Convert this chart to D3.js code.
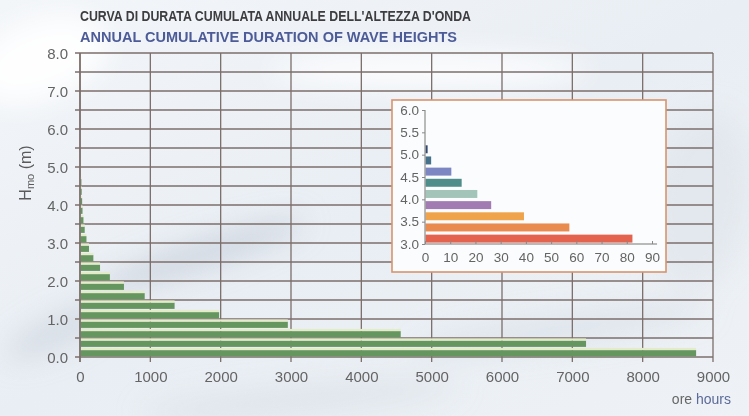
<!DOCTYPE html>
<html>
<head>
<meta charset="utf-8">
<script src="https://cdn.jsdelivr.net/npm/d3@7"></script>
<style>
  html, body { margin: 0; padding: 0; background: #eef2f6; }
  svg { display: block; font-family: "Liberation Sans", Arial, sans-serif; }
</style>
</head>
<body>
<svg id="chart" width="749" height="416"></svg>
<script>
// Lower edge of each 0.25 m wave-height class (m)
const heightClasses = [0, 0.25, 0.5, 0.75, 1.0, 1.25, 1.5, 1.75, 2.0, 2.25, 2.5,
                       2.75, 3.0, 3.25, 3.5, 3.75, 4.0, 4.25, 4.5, 4.75, 5.0];
// Cumulative annual duration of each class (hours)
const durationHours = [8750, 7185, 4550, 2945, 1968, 1335, 910, 615, 415, 275, 180,
                       118, 82, 57, 39, 26, 20.5, 14.3, 10.2, 2.2, 0.8];
// Colours of the detail bars, from 3.0 m upward
const detailColors = ["#e3634f", "#e98a4f", "#efa44b", "#a27bb2", "#a3c4b8",
                      "#4f8d8a", "#7b86c2", "#46718a", "#33486e"];

const mainYTicks = [0, 1, 2, 3, 4, 5, 6, 7, 8];
const mainXTicks = [0, 1000, 2000, 3000, 4000, 5000, 6000, 7000, 8000, 9000];
const detailYTicks = [3.0, 3.5, 4.0, 4.5, 5.0, 5.5, 6.0];
const detailXTicks = [0, 10, 20, 30, 40, 50, 60, 70, 80, 90];

const titleIt = "CURVA DI DURATA CUMULATA ANNUALE DELL'ALTEZZA D'ONDA";
const titleEn = "ANNUAL CUMULATIVE DURATION OF WAVE HEIGHTS";

const classes = heightClasses.map((h, i) => ({ h, v: durationHours[i] }));
const step = 0.25;

const svg = d3.select("#chart");
const W = 749, H = 416;
const gridColor = "#7c6e6b";
const labelColor = "#646464";

// ---- sea-coloured backdrop ----
const defs = svg.append("defs");
defs.append("filter").attr("id", "soft").attr("x", "-50%").attr("y", "-50%")
  .attr("width", "200%").attr("height", "200%")
  .append("feGaussianBlur").attr("stdDeviation", 14);
const bgGrad = defs.append("linearGradient").attr("id", "bgGrad")
  .attr("x1", 0).attr("y1", 0).attr("x2", 1).attr("y2", 1);
bgGrad.append("stop").attr("offset", 0).attr("stop-color", "#f3f6f9");
bgGrad.append("stop").attr("offset", 0.5).attr("stop-color", "#e9eef4");
bgGrad.append("stop").attr("offset", 1).attr("stop-color", "#eef2f6");
svg.append("rect").attr("width", W).attr("height", H).attr("fill", "url(#bgGrad)");

const haze = svg.append("g").attr("filter", "url(#soft)");
const streaks = [
  { cx: 40, cy: 60, rx: 70, ry: 40, c: "#ffffff", o: 0.9, r: -20 },
  { cx: 200, cy: 255, rx: 110, ry: 14, c: "#b9c3cf", o: 0.55, r: -18 },
  { cx: 60, cy: 330, rx: 60, ry: 16, c: "#c3cbd6", o: 0.5, r: -25 },
  { cx: 560, cy: 330, rx: 150, ry: 14, c: "#cfd7e1", o: 0.5, r: -8 },
  { cx: 700, cy: 200, rx: 50, ry: 90, c: "#dde3ea", o: 0.6, r: 10 },
  { cx: 300, cy: 400, rx: 160, ry: 14, c: "#d2d9e2", o: 0.5, r: -5 },
  { cx: 430, cy: 70, rx: 160, ry: 18, c: "#ffffff", o: 0.8, r: 0 }
];
haze.selectAll("ellipse").data(streaks).join("ellipse")
  .attr("cx", d => d.cx).attr("cy", d => d.cy)
  .attr("rx", d => d.rx).attr("ry", d => d.ry)
  .attr("fill", d => d.c).attr("opacity", d => d.o)
  .attr("transform", d => `rotate(${d.r},${d.cx},${d.cy})`);

// ---- titles ----
svg.append("text").attr("x", 80).attr("y", 21)
  .attr("font-size", 14.5).attr("font-weight", "bold").attr("fill", "#3d3d3f")
  .attr("textLength", 391).attr("lengthAdjust", "spacingAndGlyphs")
  .text(titleIt);
svg.append("text").attr("x", 80).attr("y", 42)
  .attr("font-size", 14.5).attr("font-weight", "bold").attr("fill", "#4d5c98")
  .attr("textLength", 377).attr("lengthAdjust", "spacingAndGlyphs")
  .text(titleEn);

// ---- main chart ----
const x = d3.scaleLinear().domain([0, 9000]).range([80, 713]);
const y = d3.scaleLinear().domain([0, 8]).range([357, 53]);

const grid = svg.append("g").attr("stroke", gridColor).attr("stroke-width", 1.3);
grid.selectAll("line.h").data(d3.range(0, 8.01, 0.5)).join("line")
  .attr("class", "h")
  .attr("x1", 75).attr("x2", x(9000))
  .attr("y1", d => y(d)).attr("y2", d => y(d));
grid.selectAll("line.v").data(mainXTicks).join("line")
  .attr("class", "v")
  .attr("x1", d => x(d)).attr("x2", d => x(d))
  .attr("y1", y(8)).attr("y2", y(0) + 5);

// bars: green body with a pale highlight strip on top
const bars = svg.append("g");
const band = y(0) - y(step);
bars.selectAll("rect.body").data(classes).join("rect")
  .attr("class", "body")
  .attr("x", x(0) + 0.7)
  .attr("y", d => y(d.h) - band + 2.6)
  .attr("width", d => x(d.v) - x(0))
  .attr("height", band - 3.2)
  .attr("fill", "#66965f");
bars.selectAll("rect.hl").data(classes).join("rect")
  .attr("class", "hl")
  .attr("x", x(0) + 0.7)
  .attr("y", d => y(d.h) - band + 0.4)
  .attr("width", d => x(d.v) - x(0))
  .attr("height", 2.2)
  .attr("fill", "#e4ebc9");

// axis line on top of the bars
svg.append("line").attr("x1", x(0)).attr("x2", x(0))
  .attr("y1", y(8)).attr("y2", y(0) + 5)
  .attr("stroke", gridColor).attr("stroke-width", 1.5);

const mainAxisY = d3.axisLeft(y).tickValues(mainYTicks).tickFormat(d3.format(".1f")).tickSize(0).tickPadding(12);
svg.append("g").attr("transform", `translate(${x(0)},0)`).call(mainAxisY)
  .call(g => g.select(".domain").remove())
  .call(g => g.selectAll("text").attr("font-size", 15).attr("fill", labelColor)
    .attr("font-family", "Liberation Sans, Arial, sans-serif").attr("dy", "0.36em"));

const mainAxisX = d3.axisBottom(x).tickValues(mainXTicks).tickFormat(d3.format("d")).tickSize(0).tickPadding(14);
svg.append("g").attr("transform", `translate(0,${y(0)})`).call(mainAxisX)
  .call(g => g.select(".domain").remove())
  .call(g => g.selectAll("text").attr("font-size", 15).attr("fill", labelColor)
    .attr("font-family", "Liberation Sans, Arial, sans-serif"));

// y-axis title H_mo (m)
const yTitle = svg.append("text")
  .attr("transform", "translate(31,173) rotate(-90)")
  .attr("text-anchor", "middle").attr("font-size", 16).attr("fill", "#5a5a5a");
yTitle.append("tspan").text("H");
yTitle.append("tspan").attr("font-size", 11).attr("dy", 3).text("mo");
yTitle.append("tspan").attr("dy", -3).text(" (m)");

// unit label
const unit = svg.append("text").attr("x", 731).attr("y", 404)
  .attr("text-anchor", "end").attr("font-size", 14);
unit.append("tspan").attr("fill", "#666").text("ore ");
unit.append("tspan").attr("fill", "#5b6a98").text("hours");

// ---- detail panel for heights above 3 m ----
const box = { x: 392, y: 100, w: 274, h: 172 };
svg.append("rect").attr("x", box.x).attr("y", box.y)
  .attr("width", box.w).attr("height", box.h)
  .attr("fill", "#fbfcfd").attr("stroke", "#d8946d").attr("stroke-width", 1.6);

const detail = classes.filter(d => d.h >= 3);
const xi = d3.scaleLinear().domain([0, 90]).range([425, 652]);
const yi = d3.scaleLinear().domain([3, 6]).range([244, 110]);
const bandI = yi(3) - yi(3 + step);

svg.append("g").selectAll("rect").data(detail).join("rect")
  .attr("x", xi(0) + 0.6)
  .attr("y", d => yi(d.h) - bandI + 1.8)
  .attr("width", d => xi(d.v) - xi(0))
  .attr("height", bandI - 3.2)
  .attr("fill", (d, i) => detailColors[i]);

const axisI = svg.append("g").attr("stroke", "#777").attr("stroke-width", 1);
axisI.append("line").attr("x1", xi(0)).attr("x2", xi(0)).attr("y1", yi(6)).attr("y2", yi(3));
axisI.append("line").attr("x1", xi(0)).attr("x2", xi(92)).attr("y1", yi(3)).attr("y2", yi(3));

const detailAxisY = d3.axisLeft(yi).tickValues(detailYTicks).tickFormat(d3.format(".1f")).tickSize(3).tickPadding(3);
svg.append("g").attr("transform", `translate(${xi(0)},0)`).call(detailAxisY)
  .call(g => g.select(".domain").remove())
  .call(g => g.selectAll("line").attr("stroke", "#888"))
  .call(g => g.selectAll("text").attr("font-size", 13.5).attr("fill", labelColor)
    .attr("font-family", "Liberation Sans, Arial, sans-serif"));

const detailAxisX = d3.axisBottom(xi).tickValues(detailXTicks).tickFormat(d3.format("d")).tickSize(3).tickPadding(5);
svg.append("g").attr("transform", `translate(0,${yi(3)})`).call(detailAxisX)
  .call(g => g.select(".domain").remove())
  .call(g => g.selectAll("line").attr("stroke", "#888").attr("transform", "translate(0,-3)"))
  .call(g => g.selectAll("text").attr("font-size", 13.5).attr("fill", labelColor)
    .attr("font-family", "Liberation Sans, Arial, sans-serif"));
</script>
</body>
</html>
